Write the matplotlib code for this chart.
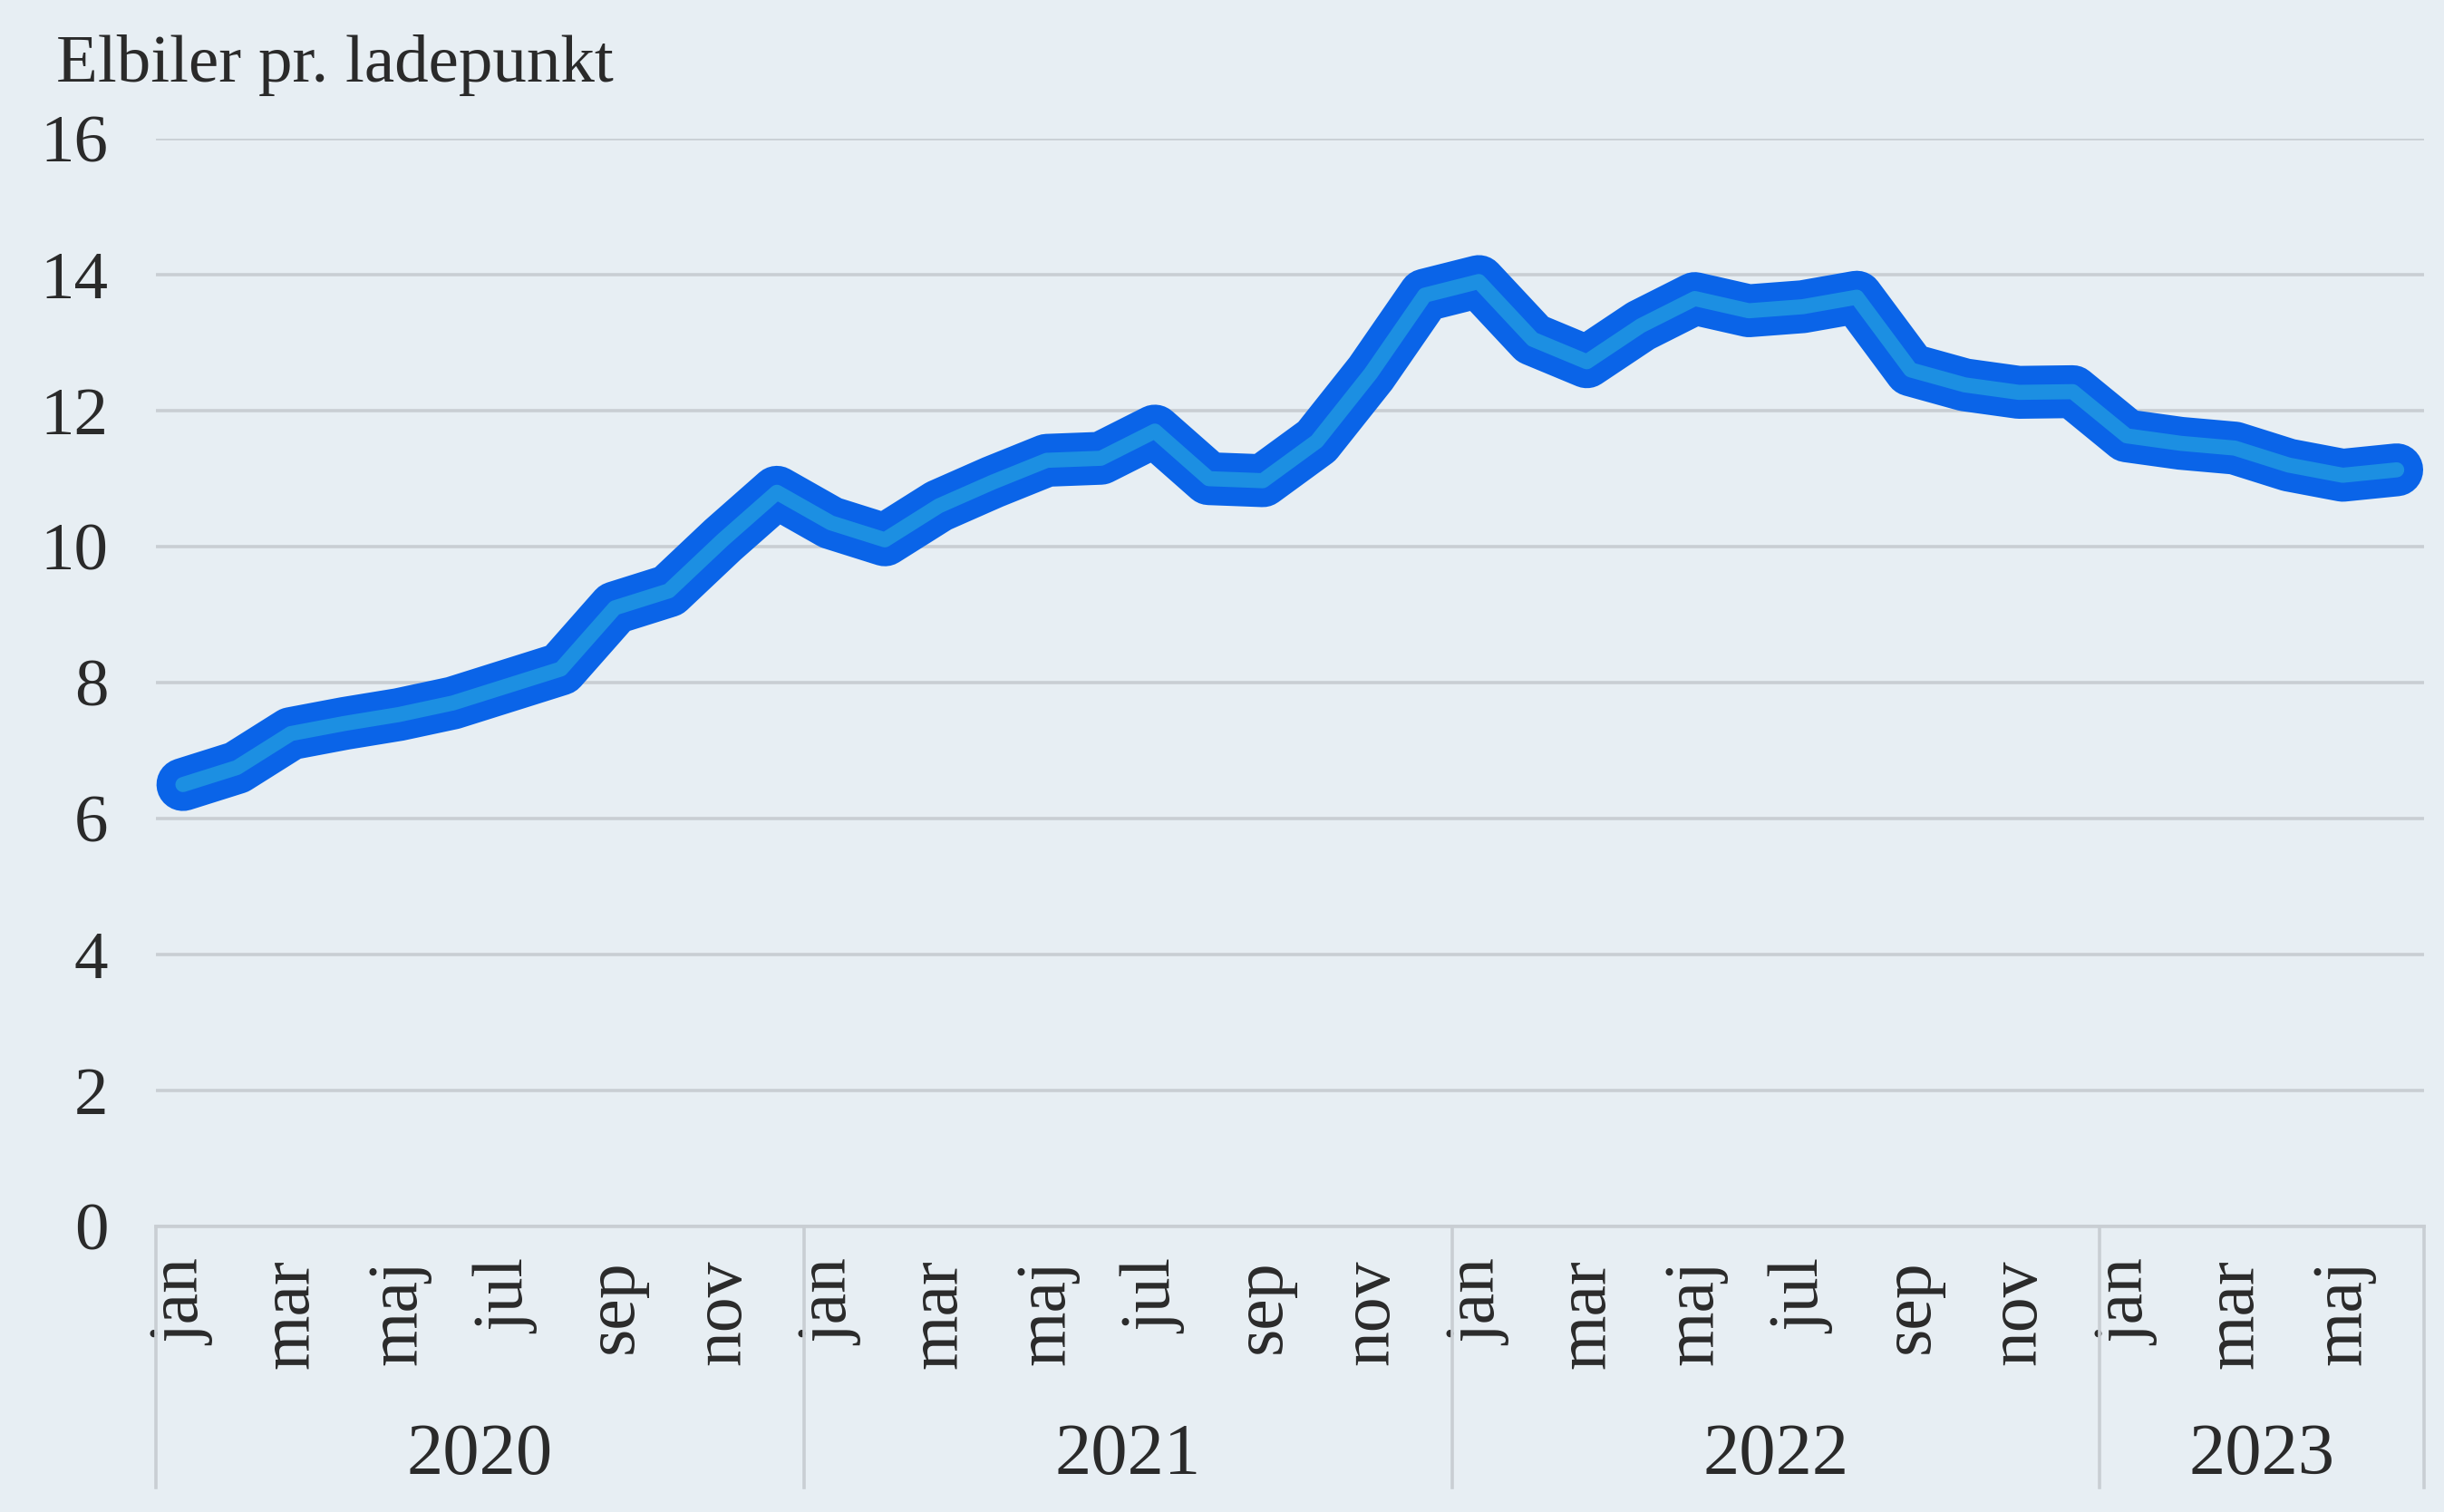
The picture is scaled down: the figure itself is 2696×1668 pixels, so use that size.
import matplotlib
matplotlib.use("Agg")
import matplotlib.pyplot as plt
from matplotlib.lines import Line2D

years = ["2020", "2021", "2022", "2023"]
months_per_year = [12, 12, 12, 6]
month_names = ["jan", "feb", "mar", "apr", "maj", "jun", "jul", "aug", "sep", "okt", "nov", "dec"]
values = [
    6.50, 6.75, 7.25, 7.40, 7.53, 7.70, 7.95, 8.20, 9.10, 9.35, 10.10, 10.80,
    10.35, 10.10, 10.60, 10.95, 11.27, 11.30, 11.70, 11.00, 10.97, 11.55, 12.55, 13.70,
    13.90, 13.05, 12.72, 13.25, 13.65, 13.47, 13.53, 13.67, 12.60, 12.38, 12.27, 12.28,
    11.63, 11.52, 11.45, 11.20, 11.05, 11.13,
]
y_ticks = [0, 2, 4, 6, 8, 10, 12, 14, 16]
title = "Elbiler pr. ladepunkt"

bg = "#E7EEF3"
grid_c = "#C9CED3"
text_c = "#2A2A2A"
font = "Liberation Serif"

fig = plt.figure(figsize=(13.48, 8.34), dpi=200, facecolor=bg)
ax = fig.add_axes([0.0638, 0.1889, 0.9279, 0.7193], facecolor=bg)

x = list(range(len(values)))
ax.plot(x, values, color="#0A64E8", lw=21, solid_joinstyle="round",
        solid_capstyle="round", zorder=3)
ax.plot(x, values, color="#1C8FE2", lw=6, solid_joinstyle="round",
        solid_capstyle="round", zorder=4)

ax.set_xlim(-0.5, len(values) - 0.5)
ax.set_ylim(0, 16)
ax.set_yticks(y_ticks)
ax.set_yticklabels([str(t) for t in y_ticks], fontfamily=font, fontsize=27, color=text_c)
ax.tick_params(axis="y", length=0, pad=19)
ax.grid(axis="y", color=grid_c, lw=1.3)
ax.set_axisbelow(True)

# month labels
labels = []
for n in months_per_year:
    labels += month_names[:n]
tick_pos = [i for i in x if i % 2 == 0]
ax.set_xticks(tick_pos)
ax.set_xticklabels([labels[i] for i in tick_pos], rotation=90, fontfamily=font,
                   fontsize=28, color=text_c)
ax.tick_params(axis="x", length=0, pad=13)

for s in ["top", "right", "left"]:
    ax.spines[s].set_visible(False)
ax.spines["bottom"].set_color(grid_c)
ax.spines["bottom"].set_linewidth(1.3)

# year groups
trans = ax.get_xaxis_transform()
start = 0
bounds = [-0.5]
for yr, n in zip(years, months_per_year):
    center = start + (n - 1) / 2
    ax.text(center, -0.211, yr, transform=trans, ha="center", va="center",
            fontfamily=font, fontsize=29, color=text_c)
    start += n
    bounds.append(start - 0.5)
for b in bounds:
    ax.add_line(Line2D([b, b], [0, -0.24], transform=trans, color=grid_c,
                       lw=1.3, clip_on=False))

fig.text(0.023, 0.946, title, ha="left", va="baseline", fontfamily=font,
         fontsize=27, color=text_c)

fig.savefig("out.png", dpi=200, facecolor=bg)
